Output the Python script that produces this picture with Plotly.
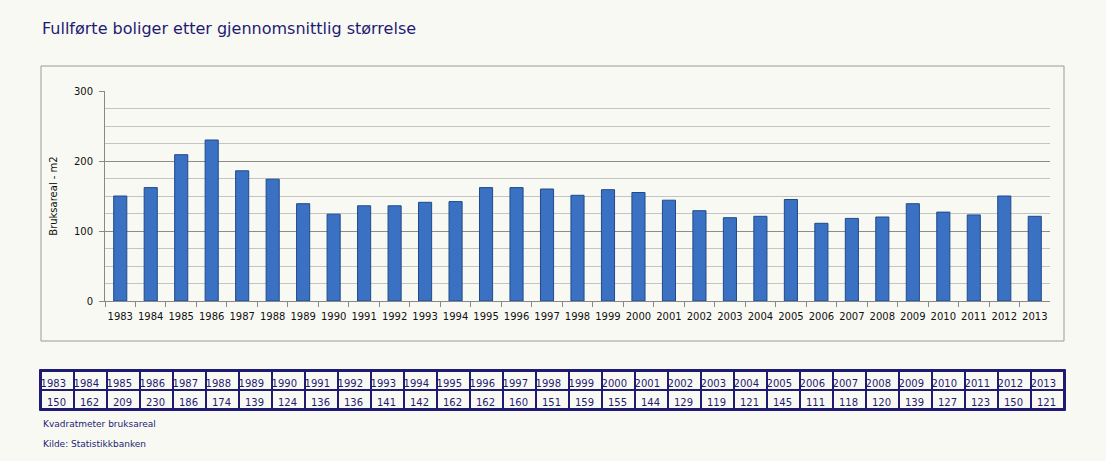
import plotly.graph_objects as go

years = ["1983","1984","1985","1986","1987","1988","1989","1990","1991","1992","1993",
         "1994","1995","1996","1997","1998","1999","2000","2001","2002","2003","2004",
         "2005","2006","2007","2008","2009","2010","2011","2012","2013"]
values = [150,162,209,230,186,174,139,124,136,136,141,142,162,162,160,151,159,155,
          144,129,119,121,145,111,118,120,139,127,123,150,121]

title_text = "Fullførte boliger etter gjennomsnittlig størrelse"
y_title = "Bruksareal - m2"
note1 = "Kvadratmeter bruksareal"
note2 = "Kilde: Statistikkbanken"

W, H = 1106, 461
BG = "#F9F9F3"
NAVY = "#1F1B73"

def px(x):
    return x / W

def py(y):
    return 1 - y / H

fig = go.Figure()

fig.add_trace(go.Bar(
    x=years, y=values, width=0.43,
    marker=dict(color="#3B71C2", line=dict(color="#1F4A8A", width=1)),
    hoverinfo="x+y",
))

tfont = dict(family="DejaVu Sans", size=10, color=NAVY)
fig.add_trace(go.Table(
    domain=dict(x=[px(41), px(1064)], y=[py(412), py(371)]),
    header=dict(values=years, height=19, align="right", font=tfont,
                fill_color=BG, line=dict(color=NAVY, width=1.5)),
    cells=dict(values=[[v] for v in values], height=19, align="right", font=tfont,
               fill_color=BG, line=dict(color=NAVY, width=1.5)),
))

fig.update_layout(
    width=W, height=H, autosize=False,
    margin=dict(l=0, r=0, t=0, b=0, autoexpand=False),
    paper_bgcolor=BG, plot_bgcolor=BG,
    showlegend=False,
    font=dict(family="DejaVu Sans", size=10, color="#222"),
    xaxis=dict(domain=[px(105), px(1050)], type="category",
               tickson="boundaries", ticks="outside", ticklen=5, tickcolor="#888",
               showline=True, linecolor="#888", showgrid=False,
               tickangle=0, automargin=False, ticklabelstandoff=6,
               tickfont=dict(size=10, color="#111")),
    yaxis=dict(domain=[py(301), py(91)], range=[0, 300], dtick=100,
               ticks="outside", ticklen=5, tickcolor="#888",
               showline=True, linecolor="#888", automargin=False,
               ticklabelstandoff=4,
               showgrid=True, gridcolor="#8C8C8C", gridwidth=1,
               zeroline=False,
               minor=dict(dtick=25, showgrid=True, gridcolor="#C4C4C4", ticks=""),
               tickfont=dict(size=10, color="#111"),
               title=dict(text=y_title, font=dict(size=10, color="#111"), standoff=14)),
    shapes=[
        dict(type="rect", xref="paper", yref="paper",
             x0=px(41), x1=px(1064), y0=py(341), y1=py(66),
             line=dict(color="#999", width=1), fillcolor="rgba(0,0,0,0)", layer="below"),
        dict(type="rect", xref="paper", yref="paper",
             x0=px(39.5), x1=px(1065.5), y0=py(410.5), y1=py(369.5),
             line=dict(color=NAVY, width=1), fillcolor="rgba(0,0,0,0)", layer="above"),
    ],
    annotations=[
        dict(text=title_text, xref="paper", yref="paper", x=px(40), y=py(28),
             xanchor="left", yanchor="middle", showarrow=False,
             font=dict(family="DejaVu Sans", size=16, color=NAVY)),
        dict(text=note1, xref="paper", yref="paper", x=px(41), y=py(424),
             xanchor="left", yanchor="middle", showarrow=False,
             font=dict(family="DejaVu Sans", size=9, color=NAVY)),
        dict(text=note2, xref="paper", yref="paper", x=px(41), y=py(444),
             xanchor="left", yanchor="middle", showarrow=False,
             font=dict(family="DejaVu Sans", size=9, color=NAVY)),
    ],
)

fig.write_html("out.html", config={"responsive": False, "displayModeBar": False})
